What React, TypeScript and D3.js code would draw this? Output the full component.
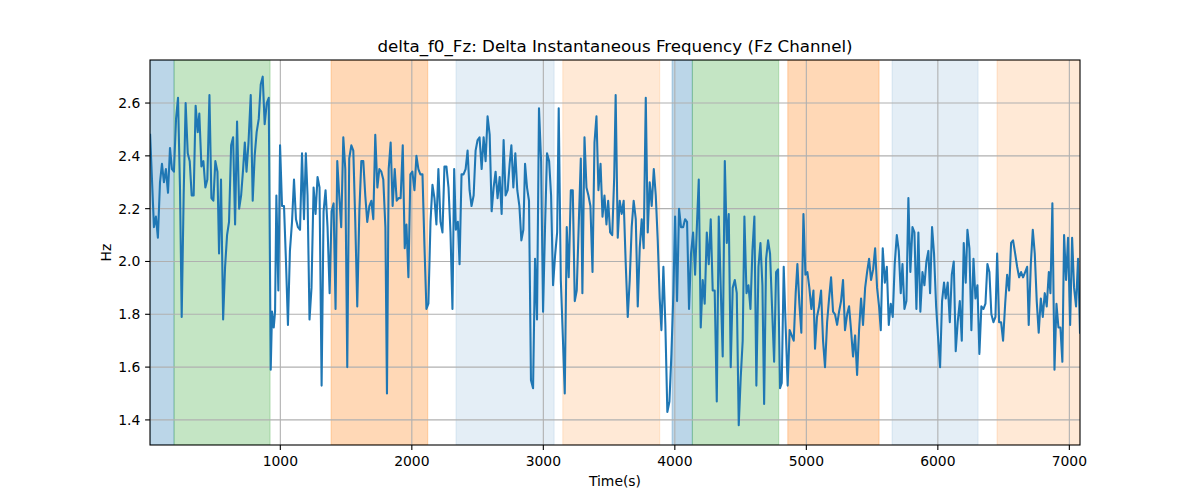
import React, { useMemo } from "react";
import * as d3 from "d3";

const TITLE = "delta_f0_Fz: Delta Instantaneous Frequency (Fz Channel)";
const X_LABEL = "Time(s)";
const Y_LABEL = "Hz";

const X_DOMAIN: [number, number] = [9, 7081];
const Y_DOMAIN: [number, number] = [1.305, 2.763];

const xTicks = [1000, 2000, 3000, 4000, 5000, 6000, 7000];
const yTicks = [1.4, 1.6, 1.8, 2.0, 2.2, 2.4, 2.6];

// shaded time segments: [start, end, kind]
const segments: [number, number, string][] = [
  [9, 192, "blue"],
  [192, 922, "green"],
  [1386, 2121, "orange"],
  [2336, 3082, "lightBlue"],
  [3148, 3885, "lightOrange"],
  [3979, 4133, "blue"],
  [4133, 4790, "green"],
  [4859, 5553, "orange"],
  [5652, 6306, "lightBlue"],
  [6450, 7081, "lightOrange"],
];

// [time (s), delta f0 (Hz)]
const samples: [number, number][] = [
  [10, 2.48], [39, 2.13], [54, 2.17], [69, 2.09], [85, 2.3], [100, 2.37], [115, 2.3], [130, 2.35],
  [146, 2.26], [161, 2.43], [176, 2.35], [191, 2.34], [207, 2.54], [222, 2.62], [237, 2.28], [250, 1.79],
  [265, 2.25], [280, 2.6], [296, 2.41], [311, 2.38], [326, 2.25], [341, 2.25], [356, 2.59], [372, 2.49],
  [384, 2.56], [400, 2.36], [415, 2.38], [430, 2.28], [445, 2.31], [461, 2.63], [476, 2.24], [491, 2.23],
  [506, 2.38], [522, 2.34], [534, 2.03], [549, 2.31], [565, 1.78], [580, 1.98], [595, 2.1], [610, 2.15],
  [626, 2.44], [641, 2.47], [656, 2.14], [671, 2.53], [687, 2.2], [702, 2.25], [717, 2.35], [730, 2.45],
  [743, 2.34], [758, 2.45], [775, 2.63], [790, 2.23], [805, 2.4], [820, 2.49], [836, 2.54], [851, 2.67],
  [866, 2.7], [881, 2.52], [897, 2.6], [912, 2.62], [927, 1.59], [937, 1.81], [950, 1.75], [960, 1.81],
  [970, 2.25], [985, 1.89], [998, 2.44], [1013, 2.21], [1028, 2.21], [1043, 2.0], [1058, 1.76], [1073, 2.04],
  [1089, 2.15], [1104, 2.31], [1119, 2.16], [1134, 2.13], [1150, 2.12], [1165, 2.41], [1180, 2.16],
  [1194, 2.41], [1207, 2.25], [1222, 1.78], [1237, 1.9], [1253, 2.28], [1268, 2.18], [1283, 2.32], [1298, 2.28],
  [1314, 1.53], [1329, 2.19], [1344, 2.27], [1359, 2.13], [1375, 1.88], [1390, 2.19], [1405, 2.22], [1420, 1.82],
  [1433, 2.38], [1448, 2.25], [1463, 2.13], [1479, 2.47], [1494, 2.35], [1509, 1.6], [1524, 2.39], [1540, 2.44],
  [1555, 2.42], [1570, 2.15], [1585, 1.83], [1601, 2.19], [1616, 2.38], [1631, 2.38], [1646, 2.25], [1661, 2.15],
  [1677, 2.21], [1692, 2.23], [1707, 2.16], [1722, 2.48], [1738, 2.28], [1753, 2.35], [1768, 2.34], [1783, 2.31],
  [1799, 2.13], [1811, 1.5], [1824, 2.35], [1839, 2.45], [1854, 2.21], [1870, 2.35], [1885, 2.23], [1900, 2.24],
  [1915, 2.24], [1931, 2.44], [1946, 2.05], [1959, 2.14], [1974, 1.94], [1989, 2.33], [2004, 2.34], [2020, 2.27],
  [2035, 2.4], [2050, 2.35], [2065, 2.33], [2081, 2.33], [2096, 2.06], [2111, 1.82], [2126, 1.84], [2142, 2.15],
  [2157, 2.29], [2172, 2.24], [2187, 2.14], [2202, 2.35], [2218, 2.15], [2233, 2.11], [2248, 2.36], [2263, 2.36],
  [2279, 2.28], [2294, 2.11], [2309, 1.82], [2322, 2.35],
  [2335, 2.12], [2350, 2.15], [2363, 1.99], [2378, 2.33], [2393, 2.33], [2409, 2.35], [2424, 2.42], [2439, 2.27],
  [2454, 2.21], [2470, 2.25], [2485, 2.42], [2500, 2.46], [2515, 2.47], [2531, 2.35], [2546, 2.47], [2561, 2.38],
  [2576, 2.55], [2592, 2.48], [2607, 2.19], [2622, 2.28], [2637, 2.34], [2652, 2.24], [2668, 2.32], [2683, 2.18],
  [2698, 2.46], [2713, 2.25], [2729, 2.27], [2744, 2.37], [2757, 2.44], [2772, 2.28], [2787, 2.41], [2802, 2.27],
  [2818, 2.21], [2833, 2.08], [2848, 2.12], [2861, 2.37], [2876, 2.28], [2891, 2.23], [2906, 1.55], [2922, 1.52],
  [2937, 2.01], [2952, 1.78], [2967, 2.58], [2983, 2.38], [2998, 1.81], [3013, 2.13], [3028, 2.41], [3044, 2.38],
  [3059, 2.25], [3074, 1.91], [3089, 2.02], [3105, 2.11], [3117, 2.58], [3133, 1.93], [3148, 1.72], [3163, 1.5],
  [3178, 2.13], [3193, 1.94], [3209, 2.27], [3224, 2.27], [3239, 1.85], [3254, 1.89], [3270, 2.15], [3285, 2.39],
  [3297, 1.88], [3313, 2.47], [3328, 2.28], [3343, 2.25], [3358, 2.21], [3374, 1.96], [3389, 2.45], [3404, 2.55],
  [3419, 2.27], [3435, 2.37], [3450, 2.17], [3465, 2.25], [3480, 2.14], [3493, 2.23], [3508, 2.11], [3524, 2.1],
  [3539, 2.32],
  [3550, 2.63], [3566, 2.09], [3581, 2.23], [3596, 2.18], [3611, 2.23], [3626, 2.0], [3642, 1.79], [3657, 1.93],
  [3672, 2.13], [3687, 2.23], [3703, 2.16], [3718, 1.83], [3733, 2.05], [3748, 2.16], [3763, 2.05], [3779, 2.62],
  [3794, 2.11], [3809, 2.3], [3824, 2.21], [3840, 2.35], [3855, 2.25], [3870, 2.08], [3885, 1.86], [3898, 1.74],
  [3913, 1.98], [3928, 1.76], [3943, 1.43], [3959, 1.47], [3974, 1.65], [3989, 1.88], [4002, 2.17], [4017, 1.85],
  [4032, 2.2], [4047, 2.13], [4063, 2.13], [4078, 2.16], [4093, 2.15], [4108, 1.82], [4123, 2.03], [4139, 2.11],
  [4154, 1.95], [4169, 2.15], [4182, 2.31], [4197, 1.75], [4212, 1.93], [4227, 1.84], [4243, 2.11], [4258, 1.99],
  [4273, 2.16], [4288, 1.89], [4303, 1.89], [4319, 1.47], [4334, 2.17], [4349, 1.9], [4364, 1.64], [4380, 2.38],
  [4395, 2.07], [4410, 2.18], [4425, 1.6], [4440, 1.9], [4456, 1.93], [4471, 1.88], [4486, 1.38], [4501, 1.56],
  [4516, 1.7], [4529, 2.17], [4545, 1.88], [4560, 1.91], [4575, 1.82], [4590, 2.04], [4605, 2.17], [4620, 1.53],
  [4636, 1.98], [4651, 2.07], [4666, 1.91], [4679, 1.46],
  [4694, 2.01], [4709, 2.08], [4724, 2.03], [4739, 1.83], [4755, 1.62], [4770, 1.96], [4785, 1.97], [4800, 1.52],
  [4813, 1.54], [4828, 1.98], [4843, 1.75], [4858, 1.53], [4873, 1.74], [4889, 1.72], [4904, 1.7], [4919, 1.88],
  [4932, 1.99], [4947, 1.84], [4962, 1.73], [4978, 2.18], [4993, 1.95], [5008, 1.96], [5023, 1.9], [5038, 1.82],
  [5054, 1.89], [5066, 1.67], [5081, 1.79], [5097, 1.83], [5112, 1.89], [5127, 1.7], [5142, 1.6], [5158, 1.77],
  [5173, 1.86], [5188, 1.94], [5203, 1.81], [5218, 1.8], [5234, 1.76], [5249, 1.81], [5264, 1.85], [5279, 1.93],
  [5294, 1.74], [5310, 1.8], [5325, 1.83], [5340, 1.74], [5355, 1.64], [5371, 1.72], [5386, 1.57], [5401, 1.74],
  [5416, 1.86], [5431, 1.76], [5447, 1.9], [5462, 1.96], [5477, 2.01], [5492, 1.93], [5508, 1.97], [5523, 2.05],
  [5538, 1.9], [5553, 1.83], [5566, 1.74], [5581, 2.05], [5597, 1.92], [5612, 1.98], [5627, 1.76], [5642, 1.84],
  [5657, 1.79], [5672, 1.99], [5688, 2.1], [5703, 2.04], [5718, 1.88], [5731, 1.99], [5746, 1.82], [5761, 1.85],
  [5776, 2.24], [5791, 1.96], [5807, 2.13], [5822, 2.11], [5837, 1.82], [5852, 2.11], [5867, 1.81], [5883, 1.96],
  [5898, 1.91],
  [5913, 2.0], [5928, 2.04], [5941, 1.88], [5956, 2.13], [5971, 2.03], [5987, 1.83], [6002, 1.71], [6017, 1.6],
  [6032, 1.85], [6047, 1.92], [6060, 1.86], [6075, 1.92], [6091, 1.77], [6106, 1.95], [6121, 2.0], [6136, 1.66],
  [6151, 1.77], [6167, 1.85], [6182, 1.7], [6197, 2.07], [6212, 1.92], [6225, 2.12], [6240, 2.05], [6255, 1.74],
  [6271, 2.01], [6286, 1.86], [6301, 1.91], [6316, 1.65], [6331, 1.83], [6347, 1.82], [6362, 1.84], [6377, 1.99],
  [6392, 1.96], [6407, 1.8], [6423, 1.77], [6438, 1.79], [6451, 2.03], [6466, 1.77], [6481, 1.77], [6496, 1.7],
  [6512, 1.84], [6527, 1.95], [6542, 1.89], [6557, 2.07], [6572, 2.08], [6588, 2.03], [6603, 1.98], [6618, 1.94],
  [6633, 1.96], [6648, 1.94], [6664, 1.96], [6679, 1.98], [6691, 1.76], [6707, 1.99], [6722, 2.12], [6737, 2.03],
  [6752, 1.85], [6767, 1.73], [6783, 1.86], [6798, 1.79], [6813, 1.88], [6828, 1.83], [6844, 1.96], [6856, 1.88],
  [6871, 2.22], [6887, 1.59], [6902, 1.84], [6917, 1.75], [6932, 1.75], [6947, 1.62], [6960, 2.1], [6975, 1.93],
  [6990, 2.09], [7006, 1.76], [7021, 2.09], [7036, 1.9], [7051, 1.83], [7066, 2.01], [7081, 1.73],
];

const BAND_STYLE: Record<string, { color: string; opacity: number }> = {
  blue: { color: "#1f77b4", opacity: 0.3 },
  green: { color: "#2ca02c", opacity: 0.28 },
  orange: { color: "#ff7f0e", opacity: 0.3 },
  lightBlue: { color: "#1f77b4", opacity: 0.12 },
  lightOrange: { color: "#ff7f0e", opacity: 0.17 },
};

const WIDTH = 1200;
const HEIGHT = 500;
const margin = { top: 60, right: 120, bottom: 55, left: 150 };
const FONT = "'DejaVu Sans', sans-serif";

const App: React.FC = () => {
  const innerW = WIDTH - margin.left - margin.right;
  const innerH = HEIGHT - margin.top - margin.bottom;

  const x = useMemo(() => d3.scaleLinear().domain(X_DOMAIN).range([0, innerW]), [innerW]);
  const y = useMemo(() => d3.scaleLinear().domain(Y_DOMAIN).range([innerH, 0]), [innerH]);

  const linePath = useMemo(
    () =>
      d3
        .line<[number, number]>()
        .x((d) => x(d[0]))
        .y((d) => y(d[1]))(samples) || "",
    [x, y]
  );

  return (
    <div style={{ position: "absolute", left: 0, top: 0 }}>
      <svg width={WIDTH} height={HEIGHT} style={{ display: "block", background: "#fff" }}>
        <defs>
          <clipPath id="plot-clip">
            <rect x={0} y={0} width={innerW} height={innerH} />
          </clipPath>
        </defs>

        {/* Title */}
        <text
          x={margin.left + innerW / 2}
          y={51.5}
          textAnchor="middle"
          fontFamily={FONT}
          fontSize="16.7px"
        >
          {TITLE}
        </text>

        <g transform={`translate(${margin.left},${margin.top})`}>
          {/* Shaded segments */}
          <g clipPath="url(#plot-clip)">
            {segments.map(([s, e, kind], i) => (
              <rect
                key={`seg-${i}`}
                x={x(s)}
                y={0}
                width={x(e) - x(s)}
                height={innerH}
                fill={BAND_STYLE[kind].color}
                fillOpacity={BAND_STYLE[kind].opacity}
                stroke={BAND_STYLE[kind].color}
                strokeOpacity={BAND_STYLE[kind].opacity}
                strokeWidth={1}
              />
            ))}
          </g>

          {/* Grid */}
          {xTicks.map((t) => (
            <line
              key={`gx-${t}`}
              x1={x(t)}
              x2={x(t)}
              y1={0}
              y2={innerH}
              stroke="#b0b0b0"
              strokeWidth={1.1}
            />
          ))}
          {yTicks.map((t) => (
            <line
              key={`gy-${t}`}
              x1={0}
              x2={innerW}
              y1={y(t)}
              y2={y(t)}
              stroke="#b0b0b0"
              strokeWidth={1.1}
            />
          ))}

          {/* Series */}
          <path
            d={linePath}
            fill="none"
            stroke="#1f77b4"
            strokeWidth={2.08}
            strokeLinejoin="round"
            strokeLinecap="square"
            clipPath="url(#plot-clip)"
          />

          {/* Spines */}
          <rect x={0} y={0} width={innerW} height={innerH} fill="none" stroke="#000" strokeWidth={1.1} />

          {/* X ticks */}
          {xTicks.map((t) => (
            <g key={`xt-${t}`} transform={`translate(${x(t)},${innerH})`}>
              <line y1={0} y2={4.9} stroke="#000" strokeWidth={1.1} />
              <text y={20.5} textAnchor="middle" fontFamily={FONT} fontSize="13.9px" fill="#000">
                {t}
              </text>
            </g>
          ))}

          {/* Y ticks */}
          {yTicks.map((t) => (
            <g key={`yt-${t}`} transform={`translate(0,${y(t)})`}>
              <line x1={0} x2={-4.9} stroke="#000" strokeWidth={1.1} />
              <text x={-9.7} dy="0.36em" textAnchor="end" fontFamily={FONT} fontSize="13.9px" fill="#000">
                {t.toFixed(1)}
              </text>
            </g>
          ))}

          {/* Axis labels */}
          <text
            x={innerW / 2}
            y={innerH + 41}
            textAnchor="middle"
            fontFamily={FONT}
            fontSize="13.9px"
          >
            {X_LABEL}
          </text>
          <text
            transform={`translate(${-39},${innerH / 2}) rotate(-90)`}
            textAnchor="middle"
            fontFamily={FONT}
            fontSize="13.9px"
          >
            {Y_LABEL}
          </text>
        </g>
      </svg>
    </div>
  );
};

export default App;
